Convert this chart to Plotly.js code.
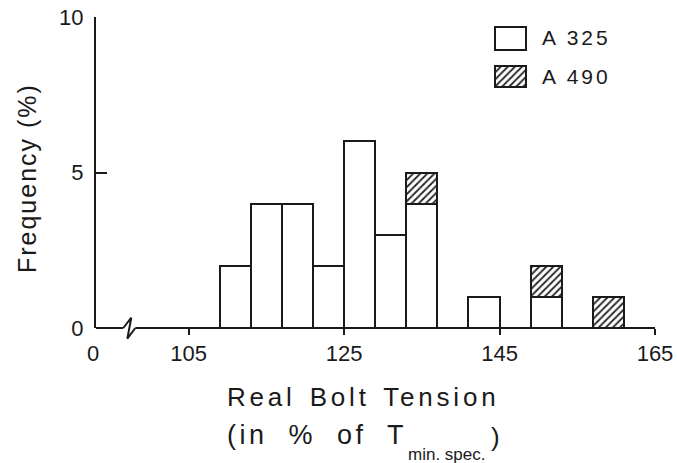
<!DOCTYPE html>
<html>
<head>
<meta charset="utf-8">
<script src="https://cdn.plot.ly/plotly-3.0.1.min.js"></script>
<style>html,body{margin:0;padding:0;background:#fff}#chart{width:677px;height:463px}</style>
</head>
<body>
<div id="chart"></div>
<script>
// ---- data ----
const binCenters = [111, 115, 119, 123, 127, 131, 135, 139, 143, 147, 151, 155, 159];
const binWidth = 4;
const freqA325 = [2, 4, 4, 2, 6, 3, 4, 0, 1, 0, 1, 0, 0];
const freqA490 = [0, 0, 0, 0, 0, 0, 1, 0, 0, 0, 1, 0, 1];
const xTickVals = [105, 125, 145, 165];
const xTickText = ['105', '125', '145', '165'];
const yTickVals = [0, 5, 10];
const yTickText = ['0', '5', '10'];
const seriesNames = ['A 325', 'A 490'];

const INK = '#1a1a1a';
const FONT = 'Liberation Sans, Arial, sans-serif';
const X0 = 93.08; // position of the broken-axis "0"

function nonZero(xs, ys) {
  const ox = [], oy = [];
  xs.forEach((x, i) => { if (ys[i] > 0) { ox.push(x); oy.push(ys[i]); } });
  return {x: ox, y: oy};
}
const s1 = nonZero(binCenters, freqA325);
const s2 = nonZero(binCenters, freqA490);

const plainMarker = {color: '#ffffff', line: {color: INK, width: 2}};
const hatchMarker = {color: '#ffffff', line: {color: INK, width: 2},
  pattern: {shape: '/', size: 5, solidity: 0.38, fgcolor: '#2a2a2a', bgcolor: '#ffffff'}};

const traces = [
  {type: 'bar', name: seriesNames[0], x: s1.x, y: s1.y, width: s1.x.map(() => binWidth),
   marker: plainMarker, hoverinfo: 'skip', showlegend: false},
  {type: 'bar', name: seriesNames[1], x: s2.x, y: s2.y, width: s2.x.map(() => binWidth),
   marker: hatchMarker, hoverinfo: 'skip', showlegend: false},
  // legend swatches (drawn on a hidden helper subplot)
  {type: 'bar', x: [17.5], y: [23], base: [39], width: [31], xaxis: 'x2', yaxis: 'y2',
   marker: plainMarker, hoverinfo: 'skip', showlegend: false},
  {type: 'bar', x: [17.5], y: [21], base: [2], width: [31], xaxis: 'x2', yaxis: 'y2',
   marker: hatchMarker, hoverinfo: 'skip', showlegend: false}
];

const layout = {
  width: 677, height: 463,
  margin: {l: 96, r: 22, t: 17, b: 135},
  paper_bgcolor: '#fff', plot_bgcolor: '#fff',
  barmode: 'stack',
  font: {family: FONT, color: INK},
  showlegend: false,
  xaxis: {
    range: [X0, 165], tickvals: xTickVals, ticktext: xTickText,
    ticks: 'outside', ticklen: 6, tickwidth: 2, tickcolor: INK,
    showline: false, showgrid: false, zeroline: false, fixedrange: true,
    tickfont: {size: 22, color: INK, family: FONT}
  },
  yaxis: {
    range: [0, 10], tickvals: yTickVals, ticktext: yTickText,
    ticks: 'inside', ticklen: 11, tickwidth: 2, tickcolor: INK,
    showline: true, linewidth: 2, linecolor: INK,
    showgrid: false, zeroline: false, fixedrange: true,
    tickfont: {size: 22, color: INK, family: FONT}, ticklabelstandoff: 6
  },
  xaxis2: {domain: [0.7107, 0.7733], range: [0, 35], anchor: 'y2', visible: false, fixedrange: true},
  yaxis2: {domain: [0.7695, 0.9752], range: [0, 64], anchor: 'x2', visible: false, fixedrange: true},
  shapes: [
    {type: 'line', xref: 'x', yref: 'paper', x0: X0, x1: 96.59, y0: 0, y1: 0, line: {color: INK, width: 2}},
    {type: 'path', xref: 'x', yref: 'paper', path: 'M96.59,0 L97.62,0.033 L97.11,-0.034 L98.14,0',
     line: {color: INK, width: 2}},
    {type: 'line', xref: 'x', yref: 'paper', x0: 98.14, x1: 165, y0: 0, y1: 0, line: {color: INK, width: 2}}
  ],
  annotations: [
    {xref: 'x', yref: 'paper', x: X0, y: 0, yanchor: 'top', yshift: -11, xshift: -3, text: '0', showarrow: false,
     font: {size: 22, color: INK}},
    {xref: 'paper', yref: 'paper', x: 0.2308, y: -0.2219, xanchor: 'left', yanchor: 'middle', showarrow: false,
     text: '<span style="letter-spacing:3.8px;word-spacing:3px">Real Bolt Tension</span>', font: {size: 26, color: INK}},
    {xref: 'paper', yref: 'paper', x: 0.2308, y: -0.344, xanchor: 'left', yanchor: 'middle', showarrow: false,
     text: '<span style="letter-spacing:3.5px;word-spacing:10px">(in % of T</span>', font: {size: 27, color: INK}},
    {xref: 'paper', yref: 'paper', x: 0.5546, y: -0.406, xanchor: 'left', yanchor: 'middle', showarrow: false,
     text: 'min. spec.', font: {size: 17, color: INK}},
    {xref: 'paper', yref: 'paper', x: 0.7138, y: -0.3505, xanchor: 'center', yanchor: 'middle', showarrow: false,
     text: ')', font: {size: 26, color: INK}},
    {xref: 'paper', yref: 'paper', x: -0.123, y: 0.483, xanchor: 'center', yanchor: 'middle', textangle: -90,
     showarrow: false, text: '<span style="letter-spacing:2px">Frequency (%)</span>', font: {size: 25, color: INK}},
    {xref: 'paper', yref: 'paper', x: 0.795, y: 0.933, xanchor: 'left', yanchor: 'middle', showarrow: false,
     text: '<span style="letter-spacing:3px">' + seriesNames[0] + '</span>', font: {size: 21, color: INK}},
    {xref: 'paper', yref: 'paper', x: 0.795, y: 0.808, xanchor: 'left', yanchor: 'middle', showarrow: false,
     text: '<span style="letter-spacing:3px">' + seriesNames[1] + '</span>', font: {size: 21, color: INK}}
  ]
};

Plotly.newPlot('chart', traces, layout, {staticPlot: true, displayModeBar: false});
</script>
</body>
</html>
